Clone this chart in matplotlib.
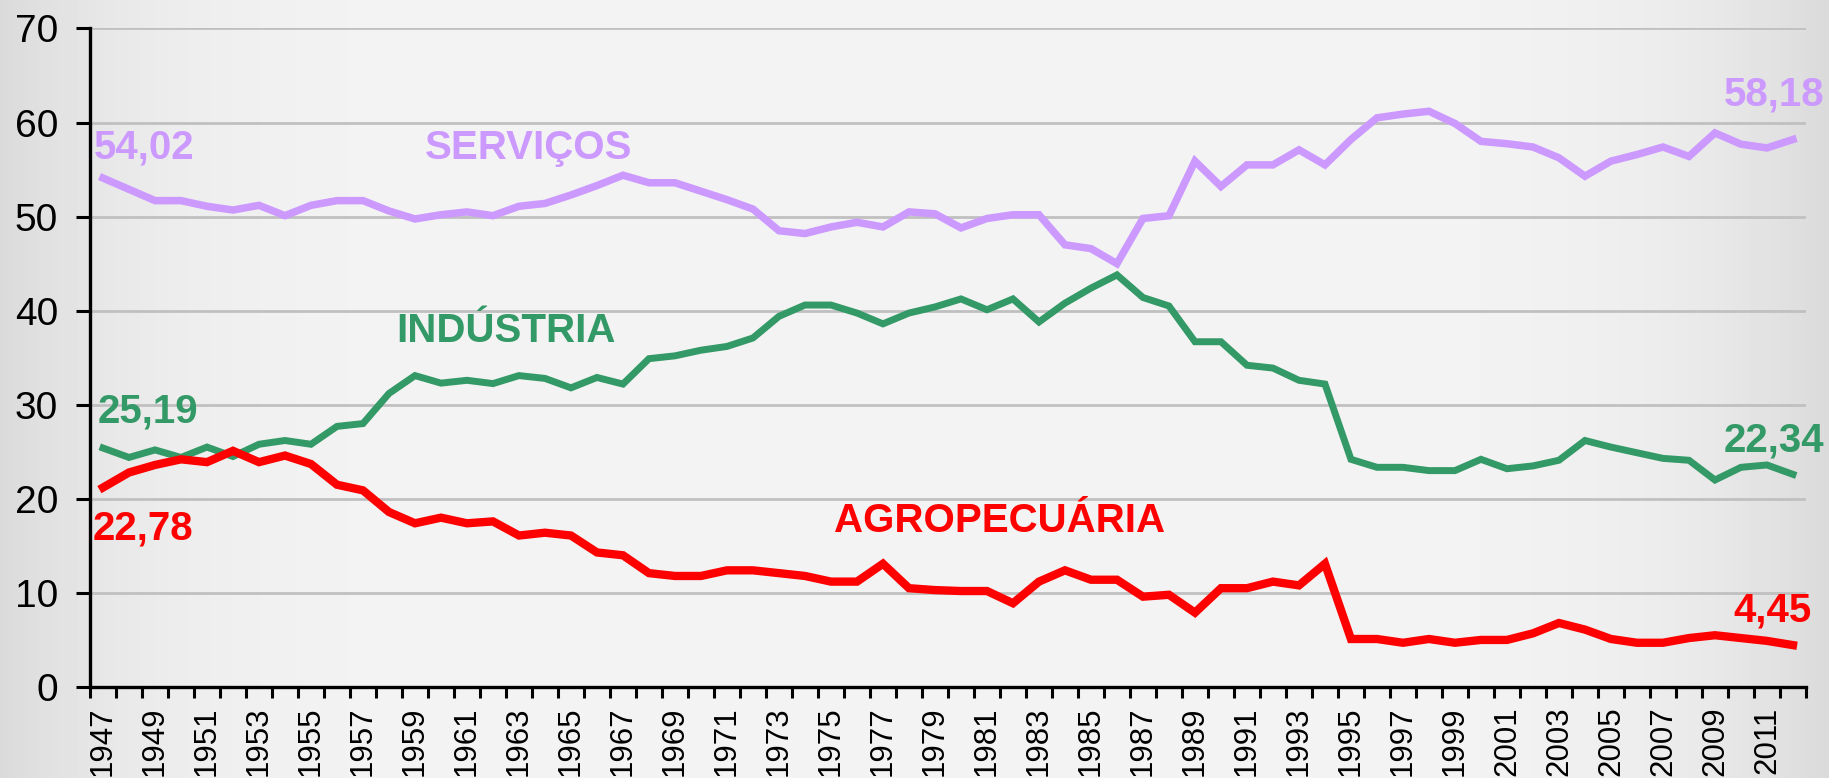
import numpy as np
import matplotlib
matplotlib.use("Agg")
import matplotlib.pyplot as plt

plt.rcParams['font.family'] = ['Liberation Sans', 'DejaVu Sans']

years = list(range(1947, 2013))

servicos = [54.1, 52.9, 51.7, 51.7, 51.1, 50.7, 51.2, 50.1, 51.2, 51.7,
            51.7, 50.6, 49.75, 50.2, 50.5, 50.1, 51.1, 51.4, 52.3, 53.3,
            54.4, 53.6, 53.6, 52.7, 51.8, 50.8, 48.5, 48.2, 48.9, 49.4,
            48.9, 50.5, 50.3, 48.8, 49.8, 50.2, 50.2, 47.0, 46.6, 45.0,
            49.8, 50.1, 55.9, 53.2, 55.5, 55.5, 57.1, 55.5, 58.2, 60.5,
            60.9, 61.2, 59.9, 58.0, 57.75, 57.4, 56.25, 54.3, 55.9, 56.6,
            57.4, 56.4, 58.9, 57.7, 57.3, 58.2]

industria = [25.4, 24.4, 25.2, 24.4, 25.5, 24.5, 25.8, 26.2, 25.8, 27.7,
             28.0, 31.2, 33.1, 32.3, 32.6, 32.25, 33.1, 32.8, 31.8, 32.9,
             32.2, 34.9, 35.2, 35.8, 36.2, 37.1, 39.4, 40.6, 40.6, 39.75,
             38.6, 39.75, 40.4, 41.25, 40.1, 41.25, 38.8, 40.8, 42.4, 43.8,
             41.4, 40.5, 36.7, 36.7, 34.2, 33.9, 32.6, 32.2, 24.2, 23.35,
             23.35, 23.0, 23.0, 24.2, 23.2, 23.5, 24.1, 26.2, 25.5, 24.9,
             24.3, 24.1, 22.0, 23.35, 23.6, 22.6]

agro = [21.2, 22.8, 23.6, 24.2, 23.9, 25.1, 23.9, 24.6, 23.7, 21.5,
        20.9, 18.6, 17.4, 18.0, 17.4, 17.6, 16.1, 16.4, 16.1, 14.3,
        14.0, 12.1, 11.8, 11.8, 12.4, 12.4, 12.1, 11.8, 11.2, 11.2,
        13.1, 10.5, 10.3, 10.2, 10.2, 8.9, 11.2, 12.4, 11.4, 11.4,
        9.6, 9.8, 7.9, 10.5, 10.5, 11.2, 10.8, 13.1, 5.1, 5.1,
        4.7, 5.1, 4.7, 5.0, 5.0, 5.7, 6.8, 6.1, 5.1, 4.7,
        4.7, 5.2, 5.5, 5.2, 4.9, 4.45]

c_serv = '#CC99FF'
c_ind = '#339966'
c_agro = '#FF0000'

fig = plt.figure(figsize=(18.29, 7.78), dpi=100)

# background with darker edges
bg = fig.add_axes([0, 0, 1, 1], zorder=-10)
xx = np.linspace(-1, 1, 400)
shade = 0.955 - 0.10 * np.abs(xx) ** 6
img = np.tile(shade, (50, 1))
bg.imshow(img, cmap='gray', vmin=0, vmax=1, aspect='auto', extent=[0, 1, 0, 1])
bg.axis('off')

ax = fig.add_axes([0.0492, 0.117, 0.9382, 0.8464])
ax.set_facecolor('none')

x = np.arange(len(years))
ax.plot(x, servicos, color=c_serv, lw=5.4, solid_joinstyle='miter', zorder=3)
ax.plot(x, industria, color=c_ind, lw=5.0, solid_joinstyle='miter', zorder=3)
ax.plot(x, agro, color=c_agro, lw=6.0, solid_joinstyle='miter', zorder=3)

ax.set_xlim(-0.5, len(years) - 0.5)
ax.set_ylim(0, 70)
ax.set_yticks(range(0, 71, 10))
ax.yaxis.grid(True, color='#C0C0C0', lw=2.0)
ax.set_axisbelow(True)

ax.set_xticks(x[::2])
ax.set_xticklabels([str(y) for y in years[::2]], rotation=90, fontsize=22.5)
ax.set_xticks(np.arange(-0.5, len(years), 1), minor=True)
ax.tick_params(axis='x', which='major', length=0, pad=14)
ax.tick_params(axis='x', which='minor', length=8, width=2.2, direction='out')
ax.tick_params(axis='y', length=10, width=2.2, labelsize=28, pad=13)

for s in ['top', 'right']:
    ax.spines[s].set_visible(False)
for s in ['left', 'bottom']:
    ax.spines[s].set_linewidth(2.4)

lab = dict(fontsize=29, fontweight='bold', va='center')
ax.text(-0.35, 57.3, '54,02', color=c_serv, ha='left', **lab)
ax.text(16.35, 57.3, 'SERVIÇOS', color=c_serv, ha='center', **lab)
ax.text(15.5, 37.8, 'INDÚSTRIA', color=c_ind, ha='center', **lab)
ax.text(-0.2, 29.3, '25,19', color=c_ind, ha='left', **lab)
ax.text(-0.38, 16.8, '22,78', color=c_agro, ha='left', **lab)
ax.text(34.5, 17.6, 'AGROPECUÁRIA', color=c_agro, ha='center', **lab)
ax.text(66.2, 63.0, '58,18', color=c_serv, ha='right', clip_on=False, **lab)
ax.text(66.2, 26.2, '22,34', color=c_ind, ha='right', clip_on=False, **lab)
ax.text(65.7, 8.1, '4,45', color=c_agro, ha='right', clip_on=False, **lab)

fig.savefig('out.png', dpi=100)
